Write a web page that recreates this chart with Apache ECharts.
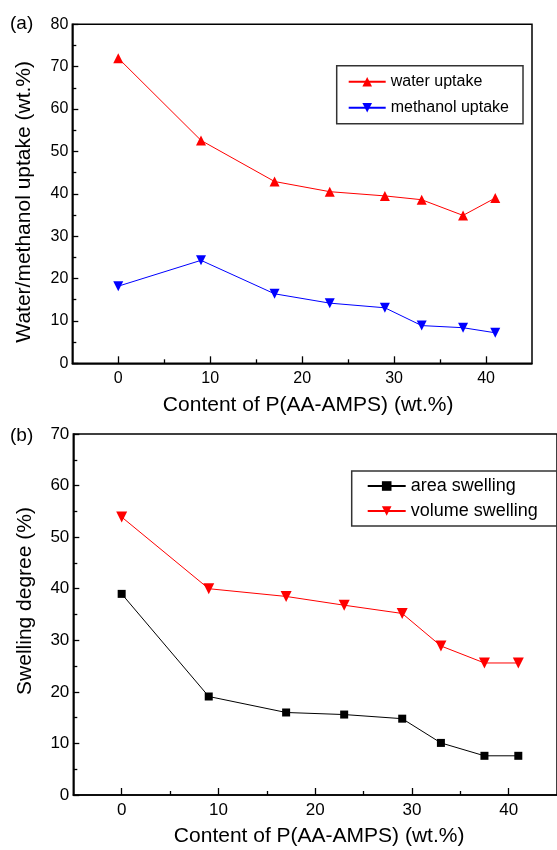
<!DOCTYPE html>
<html>
<head>
<meta charset="utf-8">
<script src="https://cdn.jsdelivr.net/npm/echarts@6/dist/echarts.min.js"></script>
<style>
html,body{margin:0;padding:0;background:#fff;}
#c{width:557px;height:850px;}
</style>
</head>
<body>
<div id="c"></div>
<script>
// ---- data ----
const content = [0, 9, 17, 23, 29, 33, 37.5, 41];
const waterUptake = [72.0, 52.6, 42.9, 40.5, 39.5, 38.6, 34.9, 39.0];
const methanolUptake = [18.2, 24.3, 16.4, 14.2, 13.1, 8.9, 8.4, 7.2];
const areaSwelling = [39.0, 19.1, 16.0, 15.6, 14.8, 10.1, 7.6, 7.6];
const volumeSwelling = [53.9, 40.0, 38.5, 36.8, 35.2, 28.9, 25.6, 25.6];
const xMajorTicks = [0, 10, 20, 30, 40];
const xMinorTicks = [5, 15, 25, 35];
const yTicksA = [0, 10, 20, 30, 40, 50, 60, 70, 80];
const yTicksB = [0, 10, 20, 30, 40, 50, 60, 70];
const xTitle = 'Content of P(AA-AMPS) (wt.%)';
const yTitleA = 'Water/methanol uptake (wt.%)';
const yTitleB = 'Swelling degree (%)';

const FONT = '"Liberation Sans", Arial, sans-serif';
const pair = (xs, ys) => xs.map((x, i) => [x, ys[i]]);

function xAxes(gridIndex, fs, tickLen, minorLen) {
  return [{
    type: 'value', gridIndex, min: -5, max: 45, position: 'bottom',
    name: xTitle, nameLocation: 'middle', nameGap: 31,
    nameTextStyle: {fontSize: 21, fontFamily: FONT, color: '#000', padding: gridIndex === 0 ? [0,0,0,12] : [0,0,0,8]},
    axisLine: {show: true, onZero: false, lineStyle: {color: '#000', width: 1.5}},
    axisTick: {show: true, inside: true, length: tickLen, customValues: xMajorTicks, lineStyle: {color: '#000', width: 1.3}},
    axisLabel: {customValues: xMajorTicks, fontSize: fs, fontFamily: FONT, color: '#000', margin: 7},
    splitLine: {show: false}
  }, {
    type: 'value', gridIndex, min: -5, max: 45, position: 'bottom',
    axisLine: {show: false, onZero: false},
    axisTick: {show: true, inside: true, length: minorLen, customValues: xMinorTicks, lineStyle: {color: '#000', width: 1.3}},
    axisLabel: {show: false},
    splitLine: {show: false}
  }];
}
function yAxis(gridIndex, max, ticks, fs, title, pad) {
  return {
    type: 'value', gridIndex, min: 0, max, interval: 10,
    name: title, nameLocation: 'middle', nameGap: 38,
    nameTextStyle: {fontSize: 21, fontFamily: FONT, color: '#000', padding: pad},
    axisLine: {show: true, onZero: false, lineStyle: {color: '#000', width: 1.5}},
    axisTick: {show: true, inside: true, length: 6, lineStyle: {color: '#000', width: 1.3}},
    minorTick: {show: true, splitNumber: 2, length: 4, lineStyle: {color: '#000', width: 1.3}},
    axisLabel: {fontSize: fs, fontFamily: FONT, color: '#000', margin: 4,
      formatter: v => ticks.includes(v) ? String(v) : ''},
    splitLine: {show: false}, minorSplitLine: {show: false}
  };
}
function lineSeries(name, xi, yi, data, color, symbol, size, rotate) {
  return {
    type: 'line', name, xAxisIndex: xi, yAxisIndex: yi, data,
    symbol, symbolSize: size, symbolRotate: rotate || 0,
    lineStyle: {color, width: 1}, itemStyle: {color},
    animation: false, z: 3
  };
}

const chart = echarts.init(document.getElementById('c'), null, {renderer: 'canvas'});
chart.setOption({
  animation: false,
  backgroundColor: '#fff',
  grid: [
    {left: 72.3, top: 24.3, width: 459.7, height: 339, show: true, borderColor: '#000', borderWidth: 1.5, backgroundColor: 'transparent'},
    {left: 73.3, top: 434, width: 486.3, height: 361, show: true, borderColor: '#000', borderWidth: 1.5, backgroundColor: 'transparent'}
  ],
  xAxis: [...xAxes(0, 16, 7, 4), ...xAxes(1, 17, 7, 4)],
  yAxis: [yAxis(0, 80, yTicksA, 16, yTitleA, [0, 16, 0, 0]), yAxis(1, 70, yTicksB, 17, yTitleB, [0, 0, 0, 27])],
  legend: [{
    data: ['water uptake', 'methanol uptake'], orient: 'vertical',
    left: 336.7, top: 65.7, padding: [8, 14, 8, 11],
    borderColor: '#333', borderWidth: 1.5,
    itemWidth: 37, itemHeight: 12, itemGap: 10,
    textStyle: {fontSize: 16, fontFamily: FONT, color: '#000', lineHeight: 14}
  }, {
    data: ['area swelling', 'volume swelling'], orient: 'vertical',
    left: 351.7, top: 471, padding: [6, 30, 6, 15],
    borderColor: '#333', borderWidth: 1.5,
    itemWidth: 38, itemHeight: 12, itemGap: 7,
    textStyle: {fontSize: 18, fontFamily: FONT, color: '#000', lineHeight: 15}
  }],
  graphic: [
    {type: 'text', left: 10, top: 14, style: {text: '(a)', fontSize: 19, fontFamily: FONT, fill: '#000'}},
    {type: 'text', left: 10, top: 426, style: {text: '(b)', fontSize: 19, fontFamily: FONT, fill: '#000'}}
  ],
  series: [
    lineSeries('water uptake', 0, 0, pair(content, waterUptake), '#ff0000', 'triangle', 10),
    lineSeries('methanol uptake', 0, 0, pair(content, methanolUptake), '#0000ff', 'triangle', 10, 180),
    lineSeries('area swelling', 2, 1, pair(content, areaSwelling), '#000000', 'rect', 8),
    lineSeries('volume swelling', 2, 1, pair(content, volumeSwelling), '#ff0000', 'triangle', 11, 180)
  ]
});
</script>
</body>
</html>
